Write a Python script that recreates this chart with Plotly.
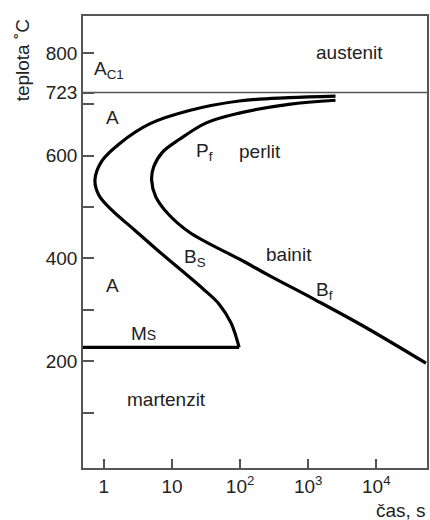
import numpy as np
import plotly.graph_objects as go

# ---- data ----
start_time = [2520, 519, 96.7, 18.0, 4.69, 1.71, 0.935, 0.739, 0.845, 1.31, 2.84, 6.14, 27.9, 49.3, 73.9, 87.5, 96.7]
start_temp = [716, 713, 706.5, 688, 662, 624, 590, 553, 523, 494, 455, 416, 342, 311, 274, 247, 227]

finish_time = [2520, 519, 96.7, 31.9, 12.9, 7.27, 5.37, 5.02, 5.74, 8.60, 18.0, 114, 265, 1286, 6910, 53700]
finish_temp = [708, 700, 683, 664, 632, 607, 578, 553, 521, 488, 451, 394, 367, 319, 266, 196]

ms_temp = 227
ms_time = [0.49, 96.7]
ac1_temp = 723

x_tickvals = [1, 10, 100, 1000, 10000]
x_ticktext = ["1", "10", "10<sup>2</sup>", "10<sup>3</sup>", "10<sup>4</sup>"]
y_tickvals = [100, 200, 300, 400, 500, 600, 700, 723, 800]
y_ticktext = ["", "200", "", "400", "", "600", "", "723", "800"]

labels = [
    ("A<sub>C1</sub>", 0.67, 767, "left"),
    ("austenit", 4070, 800, "center"),
    ("A", 1.35, 675, "center"),
    ("P<sub>f</sub>", 21.4, 607, "left"),
    ("perlit", 195, 609, "center"),
    ("B<sub>S</sub>", 14.1, 400, "left"),
    ("bainit", 525, 408, "center"),
    ("B<sub>f</sub>", 1230, 336, "left"),
    ("A", 1.35, 348, "center"),
    ("M<span style='font-size:14px'>S</span>", 2.3, 254, "left"),
    ("martenzit", 8.3, 126, "center"),
]

FONT = "Liberation Sans, Arial, sans-serif"
TXT = "#222222"
AX = "#555555"

fig = go.Figure()
for xs, ys in [(start_time, start_temp), (finish_time, finish_temp)]:
    fig.add_trace(go.Scatter(x=xs, y=ys, mode="lines",
                             line=dict(color="black", width=3.2, shape="spline", smoothing=1.0),
                             hoverinfo="skip", showlegend=False))
fig.add_trace(go.Scatter(x=ms_time, y=[ms_temp, ms_temp], mode="lines",
                         line=dict(color="black", width=3.2),
                         hoverinfo="skip", showlegend=False))

fig.add_shape(type="line", xref="paper", yref="y", x0=0, x1=1, y0=ac1_temp, y1=ac1_temp,
              line=dict(color=AX, width=1.5))

for text, xv, yv, anchor in labels:
    fig.add_annotation(x=np.log10(xv), y=yv, xref="x", yref="y", text=text,
                       showarrow=False, xanchor=anchor, yanchor="middle",
                       font=dict(family=FONT, size=19, color=TXT))

fig.add_annotation(x=-0.176, y=0.998, xref="paper", yref="paper", text="teplota ˚C",
                   textangle=-90, showarrow=False, xanchor="center", yanchor="top",
                   font=dict(family=FONT, size=19, color=TXT))
fig.add_annotation(x=1.004, y=-0.095, xref="paper", yref="paper", text="čas, s",
                   showarrow=False, xanchor="right", yanchor="middle",
                   font=dict(family=FONT, size=19, color=TXT))

fig.update_xaxes(type="log", range=[-0.307, 4.745], tickvals=x_tickvals, ticktext=x_ticktext,
                 ticks="inside", ticklen=9, tickwidth=1.5, tickcolor=AX,
                 showline=True, linecolor=AX, linewidth=1.5, mirror=True,
                 showgrid=False, zeroline=False,
                 tickfont=dict(family=FONT, size=19, color=TXT))
fig.update_yaxes(range=[-8, 872], tickvals=y_tickvals, ticktext=y_ticktext,
                 ticks="inside", ticklen=11, tickwidth=1.5, tickcolor=AX,
                 showline=True, linecolor=AX, linewidth=1.5, mirror=True,
                 showgrid=False, zeroline=False,
                 tickfont=dict(family=FONT, size=19, color=TXT))

fig.update_layout(width=430, height=520, margin=dict(l=83, r=1, t=16, b=52),
                  paper_bgcolor="white", plot_bgcolor="white")

fig.write_html("out.html")
